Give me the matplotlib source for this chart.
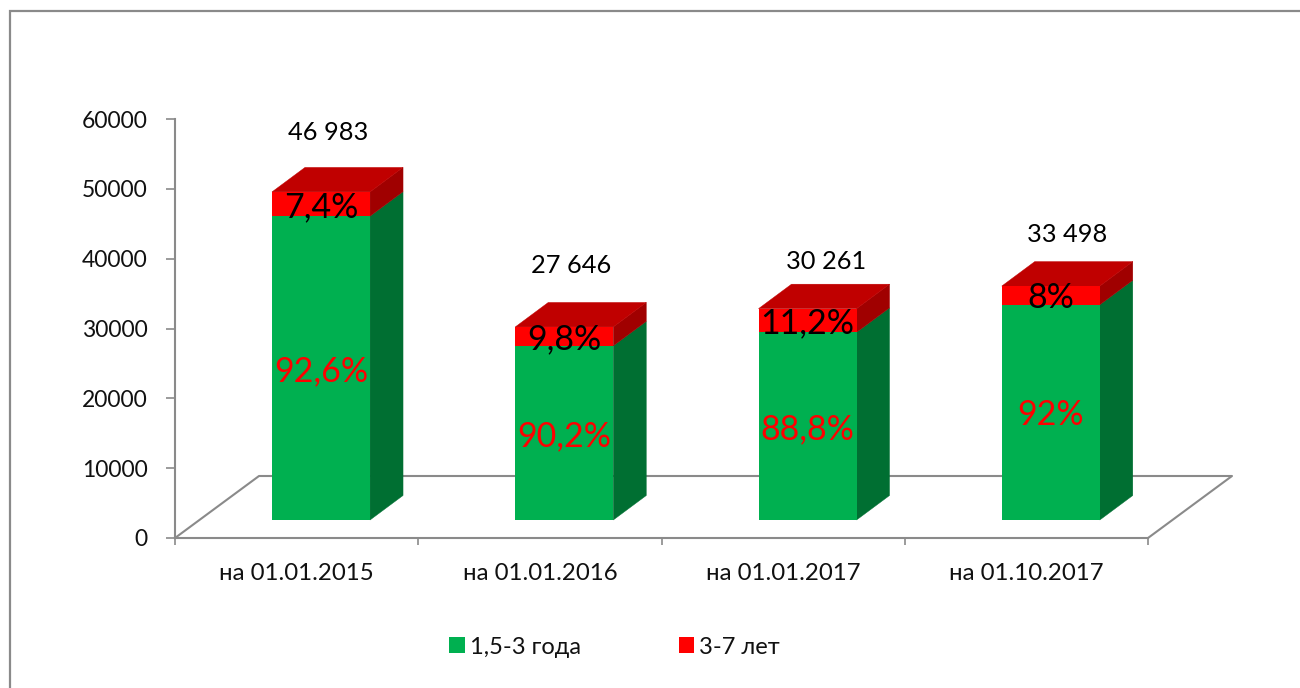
import matplotlib
matplotlib.use("Agg")
import matplotlib.pyplot as plt
from matplotlib.lines import Line2D
from matplotlib.patches import Polygon
from matplotlib.transforms import Affine2D, IdentityTransform

plt.rcParams['font.family'] = ['Lato', 'Open Sans', 'DejaVu Sans']

categories = ['на 01.01.2015', 'на 01.01.2016', 'на 01.01.2017', 'на 01.10.2017']
series_names = ['1,5-3 года', '3-7 лет']
green_values = [43506, 24937, 26872, 30818]
red_values = [3477, 2709, 3389, 2680]
totals = [46983, 27646, 30261, 33498]
green_labels = ['92,6%', '90,2%', '88,8%', '92%']
red_labels = ['7,4%', '9,8%', '11,2%', '8%']
y_ticks = [0, 10000, 20000, 30000, 40000, 50000, 60000]

W, H = 1300, 688
GREY = '#8a8a8a'
fig = plt.figure(figsize=(W / 100, H / 100), dpi=100, facecolor='white')
ax = fig.add_axes([175 / W, 1 - 538 / H, (1148 - 175) / W, (538 - 119) / H])
ax.set_xlim(-0.5, 3.5)
ax.set_ylim(0, 60000)
ax.patch.set_alpha(0)

# outer chart frame: only the top and left edges show in the crop
fig.add_artist(Line2D([9.5 / W, 9.5 / W, 1.0], [0.0, 1 - 11 / H, 1 - 11 / H],
                      transform=fig.transFigure, color=GREY, linewidth=1.6,
                      solid_joinstyle='miter'))

for s in ('top', 'right'):
    ax.spines[s].set_visible(False)
for s in ('left', 'bottom'):
    ax.spines[s].set_color(GREY)
    ax.spines[s].set_linewidth(1.5)

ax.set_yticks(y_ticks)
ax.set_yticklabels([str(v) for v in y_ticks], va='center_baseline')
ax.tick_params(axis='y', length=6.5, width=1.2, color=GREY, pad=13, labelsize=16.5, labelcolor='#111111')
ax.set_xticks(range(len(categories)))
ax.set_xticklabels(categories)
ax.set_xticks([i - 0.5 for i in range(len(categories) + 1)], minor=True)
ax.tick_params(axis='x', which='major', length=0, pad=18, labelsize=17.3, labelcolor='#111111')
ax.tick_params(axis='x', which='minor', length=5, width=1.2, color=GREY)

FRONT = (24.4, 18)
DEPTH = (33, 24.5)
FLOOR = (84, 62)
BAR_W = 0.403
front_tr = ax.transData + Affine2D().translate(*FRONT)
label_tr = ax.transData + Affine2D().translate(FRONT[0], FRONT[1] - 3)


def px(x, y, d=(0, 0)):
    p = ax.transData.transform((x, y))
    return (p[0] + d[0], p[1] + d[1])


# floor outline
x0, x1 = ax.get_xlim()
floor = [px(x0, 0), px(x0, 0, FLOOR), px(x1, 0, FLOOR), px(x1, 0)]
ax.plot(*zip(*floor), color=GREY, lw=1.5, transform=IdentityTransform(), clip_on=False, zorder=1)


def add_poly(pts, color, z):
    ax.add_patch(Polygon(pts, closed=True, facecolor=color, edgecolor=color, linewidth=0.3,
                         transform=IdentityTransform(), clip_on=False, zorder=z))


xs = list(range(len(categories)))
ax.bar(xs, green_values, BAR_W, color='#00B050', transform=front_tr, clip_on=False, zorder=4,
       label=series_names[0])
ax.bar(xs, red_values, BAR_W, bottom=green_values, color='#FF0000', transform=front_tr,
       clip_on=False, zorder=4, label=series_names[1])

back = (FRONT[0] + DEPTH[0], FRONT[1] + DEPTH[1])
for i in xs:
    xr = i + BAR_W / 2
    xl = i - BAR_W / 2
    g, t = green_values[i], totals[i]
    add_poly([px(xr, 0, FRONT), px(xr, 0, back), px(xr, g, back), px(xr, g, FRONT)], '#006F32', 3)
    add_poly([px(xr, g, FRONT), px(xr, g, back), px(xr, t, back), px(xr, t, FRONT)], '#A00000', 3)
    add_poly([px(xl, t, FRONT), px(xl, t, back), px(xr, t, back), px(xr, t, FRONT)], '#C00000', 3)

# data labels, in offset pixels from the bar's front face
total_offsets = [(7, 59), (7, 61), (19, 47), (16, 52)]
for i in xs:
    g, r, t = green_values[i], red_values[i], totals[i]
    ax.text(i, g / 2, green_labels[i], transform=label_tr, ha='center', va='center',
            color='#FF0000', fontsize=24.5, zorder=6)
    ax.text(i, g + r / 2, red_labels[i], transform=label_tr, ha='center', va='center',
            color='black', fontsize=24.5, zorder=6)
    off = ax.transData + Affine2D().translate(FRONT[0] + total_offsets[i][0], FRONT[1] + total_offsets[i][1])
    ax.text(i, t, f'{t:,}'.replace(',', ' '), transform=off, ha='center', va='center',
            color='black', fontsize=18.3, zorder=6)

handles, labels = ax.get_legend_handles_labels()
ax.legend(handles, labels, loc='center left', bbox_to_anchor=(428 / W, 1 - 647 / H),
          bbox_transform=fig.transFigure, ncol=2, frameon=False, fontsize=17,
          handlelength=0.65, handleheight=0.65, handletextpad=0.22, columnspacing=4.15,
          labelcolor='#111111')

fig.savefig('out.png', dpi=100)
